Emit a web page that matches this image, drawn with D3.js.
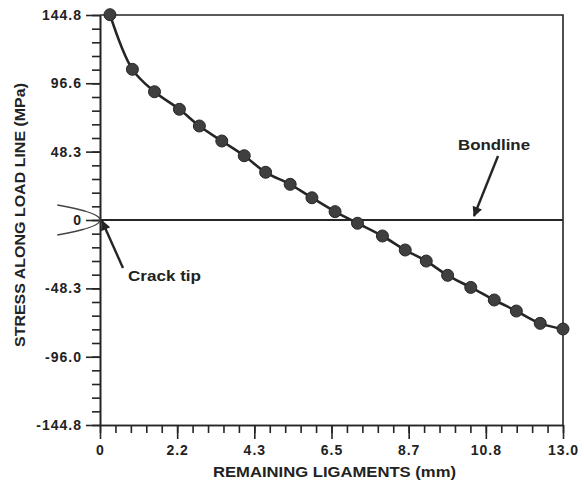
<!DOCTYPE html>
<html lang="en"><head><meta charset="UTF-8">
<title>Stress along load line</title>
<script src="https://cdn.jsdelivr.net/npm/d3@7"></script>
<style>
  body { margin:0; background:#fff; }
  svg text { font-family: "Liberation Sans", Arial, sans-serif; font-weight:bold; fill:#222; }
</style>
</head>
<body>
<div id="chart"></div>
<script>

// remaining ligament (mm) and stress (MPa)
const ligament = [0.28, 0.91, 1.53, 2.23, 2.79, 3.42, 4.05, 4.65, 5.34, 5.95, 6.60,
                  7.23, 7.93, 8.57, 9.16, 9.76, 10.41, 11.07, 11.69, 12.36, 13.0];
const stress   = [145.0, 106.4, 90.6, 78.2, 66.4, 55.8, 45.4, 33.7, 25.2, 15.7, 5.9,
                  -2.3, -11.3, -21.2, -29.0, -39.1, -47.6, -56.5, -64.3, -73.0, -77.0];

const xTicks  = [0, 13/6, 13/3, 6.5, 26/3, 65/6, 13.0];
const xLabels = ["0", "2.2", "4.3", "6.5", "8.7", "10.8", "13.0"];
const yTicks  = [-144.8, -96.6, -48.3, 0, 48.3, 96.6, 144.8];
const yLabels = ["-144.8", "-96.0", "-48.3", "0", "48.3", "96.6", "144.8"];

const W = 584, H = 495;
const svg = d3.select("#chart").append("svg").attr("width", W).attr("height", H);

const x = d3.scaleLinear().domain([0, 13]).range([100, 563]);
const y = d3.scaleLinear().domain([-144.8, 144.8]).range([425, 15]);

const ink = "#252525";

// minor ticks (5 per major interval)
const xMinor = d3.range(0, 31).map(i => i * 13 / 30);
const yMinor = d3.range(0, 31).map(i => -144.8 + i * 289.6 / 30);

svg.append("g").attr("transform", "translate(0,425)")
  .call(d3.axisBottom(x).tickValues(xMinor).tickSize(8).tickSizeOuter(0).tickFormat(""))
  .call(g => g.selectAll("line,path").attr("stroke", ink).attr("stroke-width", 1.6));
svg.append("g").attr("transform", "translate(0,425)")
  .call(d3.axisBottom(x).tickValues(xTicks).tickSize(14).tickSizeOuter(0).tickPadding(6)
        .tickFormat((d, i) => xLabels[i]))
  .call(g => g.selectAll("line,path").attr("stroke", ink).attr("stroke-width", 1.6))
  .call(g => g.selectAll("text").attr("font-size", 14).attr("letter-spacing", 1).attr("fill", ink));

svg.append("g").attr("transform", "translate(100,0)")
  .call(d3.axisLeft(y).tickValues(yMinor).tickSize(8).tickSizeOuter(0).tickFormat(""))
  .call(g => g.selectAll("line,path").attr("stroke", ink).attr("stroke-width", 1.6));
svg.append("g").attr("transform", "translate(100,0)")
  .call(d3.axisLeft(y).tickValues(yTicks).tickSize(14).tickSizeOuter(0).tickPadding(4)
        .tickFormat((d, i) => yLabels[i]))
  .call(g => g.selectAll("line,path").attr("stroke", ink).attr("stroke-width", 1.6))
  .call(g => g.selectAll("text").attr("font-size", 14).attr("letter-spacing", 1).attr("fill", ink));

// frame top / right and the bondline
svg.append("path")
  .attr("d", `M${x(0)},${y(144.8)}H${x(13)}V${y(-144.8)}`)
  .attr("fill", "none").attr("stroke", ink).attr("stroke-width", 1.6);
svg.append("line")
  .attr("x1", x(0)).attr("x2", x(13)).attr("y1", y(0)).attr("y2", y(0))
  .attr("stroke", ink).attr("stroke-width", 1.8);

// data curve and points
const pts = ligament.map((v, i) => [v, stress[i]]);
svg.append("path").datum(pts)
  .attr("d", d3.line().x(d => x(d[0])).y(d => y(d[1])).curve(d3.curveCatmullRom))
  .attr("fill", "none").attr("stroke", ink).attr("stroke-width", 2.6);
svg.selectAll("circle.pt").data(pts).enter().append("circle")
  .attr("class", "pt")
  .attr("cx", d => x(d[0])).attr("cy", d => y(d[1])).attr("r", 6)
  .attr("fill", "#3f3f3f").attr("stroke", "#262626").attr("stroke-width", 1);

// crack tip sketch: sideways parabola meeting at the tip
const tipX = x(0), tipY = y(0);
const crack = d3.range(-15, 15.5, 0.5).map(t => [tipX - 0.19 * t * t, tipY + t]);
svg.append("path")
  .attr("d", d3.line()(crack))
  .attr("fill", "none").attr("stroke", "#444").attr("stroke-width", 1.3);

// arrows
const defs = svg.append("defs");
defs.append("marker").attr("id", "head")
  .attr("viewBox", "0 0 10 10").attr("refX", 9).attr("refY", 5)
  .attr("markerUnits", "userSpaceOnUse")
  .attr("markerWidth", 14).attr("markerHeight", 10).attr("orient", "auto")
  .append("path").attr("d", "M0,0L10,5L0,10z").attr("fill", ink);

svg.append("line")
  .attr("x1", 498).attr("y1", 156).attr("x2", 474).attr("y2", 216)
  .attr("stroke", ink).attr("stroke-width", 2.4).attr("marker-end", "url(#head)");
svg.append("text").attr("x", 458).attr("y", 150)
  .attr("font-size", 14).attr("textLength", 72).attr("lengthAdjust", "spacingAndGlyphs")
  .text("Bondline");

svg.append("line")
  .attr("x1", 123).attr("y1", 268).attr("x2", 102).attr("y2", 221)
  .attr("stroke", ink).attr("stroke-width", 2.4).attr("marker-end", "url(#head)");
svg.append("text").attr("x", 128).attr("y", 281)
  .attr("font-size", 14).attr("textLength", 73).attr("lengthAdjust", "spacingAndGlyphs")
  .text("Crack tip");

// axis titles
svg.append("text").attr("x", 213).attr("y", 477)
  .attr("font-size", 14).attr("textLength", 243).attr("lengthAdjust", "spacingAndGlyphs")
  .text("REMAINING LIGAMENTS (mm)");
svg.append("text").attr("transform", "translate(25,347) rotate(-90)")
  .attr("font-size", 14).attr("textLength", 264).attr("lengthAdjust", "spacingAndGlyphs")
  .text("STRESS ALONG LOAD LINE (MPa)");

</script>
</body></html>
